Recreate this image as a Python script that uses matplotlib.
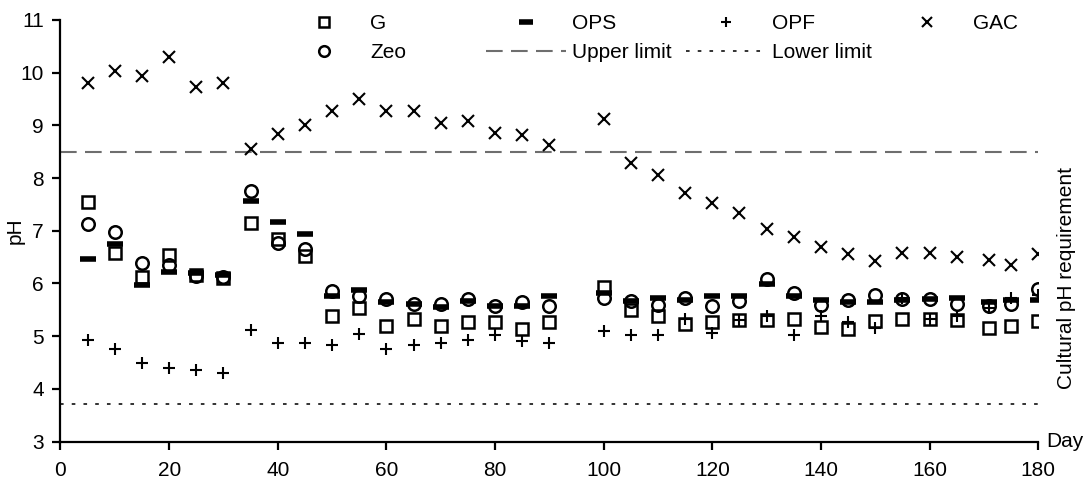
import matplotlib
matplotlib.use('Agg')
import matplotlib.pyplot as plt

plt.rcParams['font.family'] = ['Liberation Sans', 'DejaVu Sans']
plt.rcParams['font.size'] = 15

# sampling days
days = [5, 10, 15, 20, 25, 30, 35, 40, 45, 50, 55, 60, 65, 70, 75, 80, 85, 90,
        100, 105, 110, 115, 120, 125, 130, 135, 140, 145, 150, 155, 160, 165,
        171, 175, 180]

# pH per treatment
ph_g = [7.54, 6.58, 6.13, 6.54, 6.17, 6.11, 7.14, 6.84, 6.52, 5.38, 5.54, 5.19,
        5.32, 5.19, 5.26, 5.26, 5.13, 5.26, 5.94, 5.50, 5.38, 5.24, 5.27, 5.30,
        5.30, 5.32, 5.18, 5.13, 5.29, 5.32, 5.32, 5.31, 5.16, 5.19, 5.29]
ph_zeo = [7.12, 6.98, 6.39, 6.36, 6.14, 6.13, 7.75, 6.76, 6.65, 5.86, 5.76, 5.71,
          5.62, 5.62, 5.71, 5.58, 5.64, 5.58, 5.73, 5.67, 5.60, 5.73, 5.58, 5.67,
          6.08, 5.81, 5.60, 5.68, 5.79, 5.70, 5.71, 5.62, 5.58, 5.62, 5.89]
ph_ops = [6.46, 6.74, 5.98, 6.22, 6.20, 6.17, 7.56, 7.16, 6.93, 5.76, 5.87, 5.65,
          5.62, 5.55, 5.67, 5.58, 5.58, 5.76, 5.81, 5.67, 5.73, 5.68, 5.77, 5.77,
          5.99, 5.77, 5.68, 5.65, 5.64, 5.68, 5.71, 5.73, 5.64, 5.68, 5.68]
ph_opf = [4.93, 4.76, 4.50, 4.39, 4.36, 4.31, 5.11, 4.88, 4.88, 4.84, 5.05, 4.76,
          4.84, 4.88, 4.92, 5.02, 4.91, 4.88, 5.10, 5.02, 5.02, 5.32, 5.07, 5.30,
          5.38, 5.03, 5.38, 5.26, 5.16, 5.72, 5.32, 5.38, 5.54, 5.73, 5.78]
ph_gac = [9.81, 10.03, 9.94, 10.29, 9.72, 9.81, 8.55, 8.83, 9.00, 9.27, 9.50, 9.27,
          9.27, 9.05, 9.08, 8.86, 8.81, 8.62, 9.12, 8.29, 8.05, 7.71, 7.53, 7.34,
          7.04, 6.89, 6.70, 6.55, 6.42, 6.58, 6.58, 6.51, 6.44, 6.36, 6.55]

upper_limit = 8.5
lower_limit = 3.72

fig = plt.figure(figsize=(10.9, 4.83), dpi=100)
ax = fig.add_axes([0.0555, 0.0857, 0.897, 0.873])

common = dict(linestyle='none', color='black', markerfacecolor='none')
h_g, = ax.plot(days, ph_g, marker='s', markersize=9, markeredgewidth=1.8,
               label='G', **common)
h_zeo, = ax.plot(days, ph_zeo, marker='o', markersize=9, markeredgewidth=1.8,
                 label='Zeo', **common)
h_ops, = ax.plot(days, ph_ops, marker='_', markersize=12, markeredgewidth=4,
                 label='OPS', **common)
h_opf, = ax.plot(days, ph_opf, marker='+', markersize=9, markeredgewidth=1.5,
                 label='OPF', **common)
h_gac, = ax.plot(days, ph_gac, marker='x', markersize=8.5, markeredgewidth=1.5,
                 label='GAC', **common)

h_up = ax.axhline(upper_limit, color='#6e6e6e', linewidth=1.5,
                  linestyle=(0, (8, 4)), label='Upper limit', zorder=1)
h_lo = ax.axhline(lower_limit, color='#222222', linewidth=1.3,
                  linestyle=(0, (2, 4.5)), label='Lower limit', zorder=1)

ax.set_xlim(0, 180)
ax.set_ylim(3, 11)
ax.set_xticks(range(0, 181, 20))
ax.set_yticks(range(3, 12))
for side in ['top', 'right']:
    ax.spines[side].set_visible(False)
for side in ['left', 'bottom']:
    ax.spines[side].set_linewidth(1.6)
ax.tick_params(axis='both', direction='out', length=6, width=1.6)
ax.tick_params(axis='x', pad=8)
ax.tick_params(axis='y', pad=6)
ax.set_ylabel('pH')
ax.yaxis.set_label_coords(-0.037, 0.5)

ax.text(1.008, 0.0, 'Day', transform=ax.transAxes, ha='left', va='center')
ax.text(1.029, (upper_limit + lower_limit) / 2, 'Cultural pH requirement',
        transform=ax.get_yaxis_transform(), rotation=90,
        ha='center', va='center')

# legend: four equal-width columns like the original
columns = [[h_g, h_zeo], [h_ops, h_up], [h_opf, h_lo], [h_gac]]
col_left = [284, 486, 686, 887]
for handles, left in zip(columns, col_left):
    fig.legend(handles=handles, loc='upper left',
               bbox_to_anchor=(left / 1090, 1 - 14 / 483),
               frameon=False, borderpad=0, borderaxespad=0,
               handlelength=3.85, handletextpad=0.3,
               labelspacing=0.5, markerscale=0.85)

fig.savefig('out.png', dpi=100)
